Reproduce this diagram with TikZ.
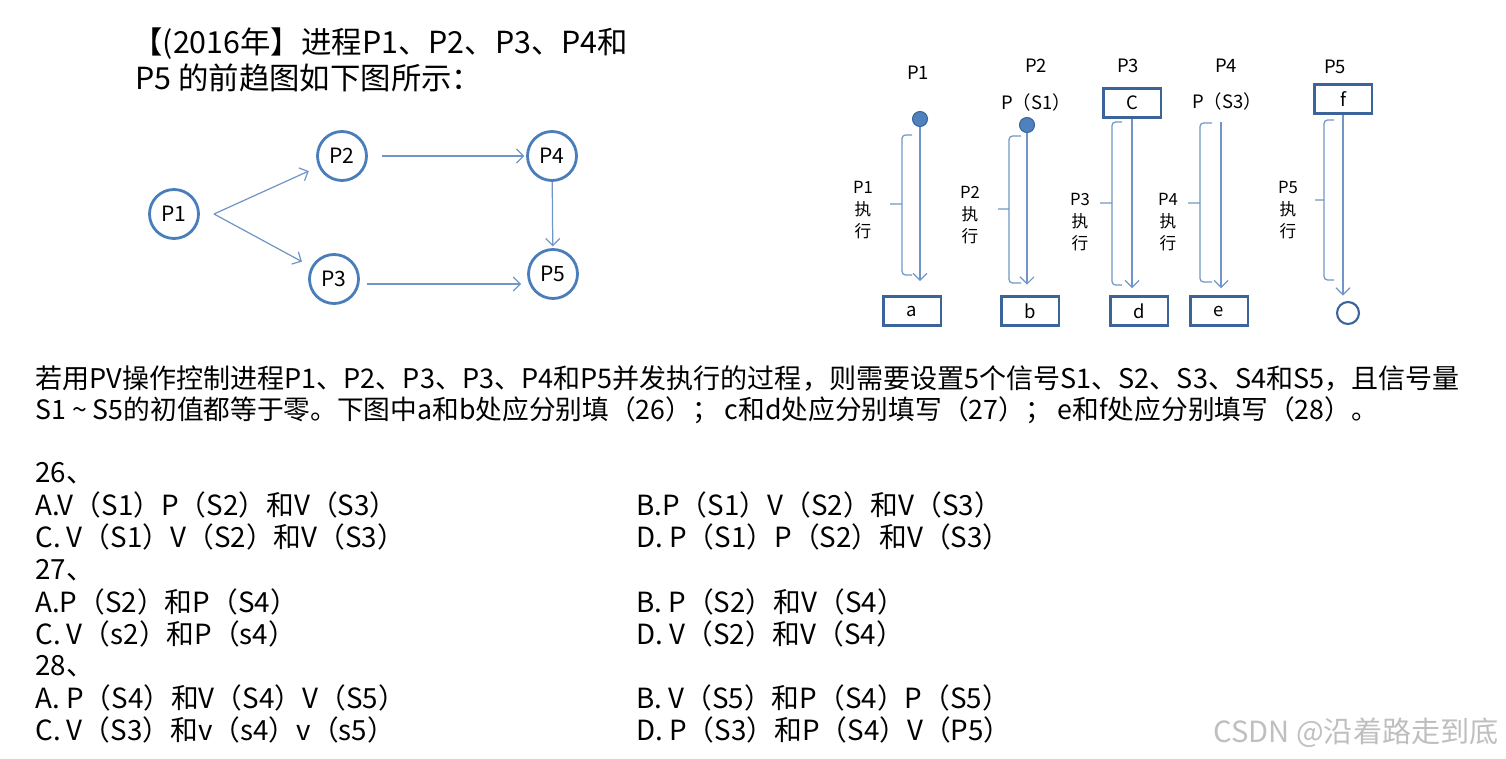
\documentclass[tikz,border=0pt]{standalone}
\usepackage{fontspec}
\setmainfont{Noto Sans CJK SC}
\usetikzlibrary{arrows.meta,positioning}
\definecolor{ringblue}{HTML}{4A7EBB}
\definecolor{lineblue}{HTML}{7096C8}
\definecolor{dotblue}{HTML}{4F81BD}
\definecolor{boxblue}{HTML}{3A649A}
\tikzset{every picture/.style={x=0.02cm,y=-0.02cm}}
\tikzset{txt/.style = {anchor=west,inner sep=0pt,font=\fontsize{15.8}{18}\selectfont}}
\tikzset{proc/.style = {shape=circle,draw=ringblue,line width=1.6pt,minimum size=0.98cm,inner sep=0pt,font=\fontsize{12}{14}\selectfont}}
\tikzset{edge/.style = {->, draw=lineblue, line width=0.7pt, >={Straight Barb[length=4pt,width=8pt]}}}
\tikzset{slot/.style = {draw=boxblue,line width=1.4pt,minimum width=1.15cm,minimum height=0.58cm,inner sep=0pt,font=\fontsize{10.5}{12}\selectfont}}
\tikzset{head/.style = {inner sep=0pt,font=\fontsize{10.5}{12}\selectfont}}
\tikzset{dot/.style = {shape=circle,fill=dotblue,draw=boxblue,line width=0.6pt,minimum size=0.3cm,inner sep=0pt}}
\tikzset{brace/.style = {draw=lineblue,line width=0.7pt,rounded corners=2pt}}
\tikzset{side/.style = {align=center,inner sep=0pt,font=\fontsize{9.5}{12.5}\selectfont}}

\begin{document}
\begin{tikzpicture}
\useasboundingbox (0,0) rectangle (1506,759);
% question title
\node[txt,font=\fontsize{17.3}{20}\selectfont] (title1) at (132,44) {【(2016年】进程P1、P2、P3、P4和};
\node[txt,font=\fontsize{17.3}{20}\selectfont] (title2) at (135,78) {P5 的前趋图如下图所示：};
% precedence graph
\node[proc] (p1) at (174,214) {P1};
\node[proc] (p2) at (342,156) {P2};
\node[proc] (p3) at (334,279) {P3};
\node[proc] (p4) at (552,156) {P4};
\node[proc] (p5) at (553,274) {P5};
\coordinate (fork) at (214,214);
\draw[edge,shorten >=6pt] (fork) -- (p2);
\draw[edge,shorten >=6pt] (fork) -- (p3);
\draw[edge,shorten <=8pt,shorten >=1pt] (p2) -- (p4);
\draw[edge,shorten >=1pt] (p4) -- (p5);
\draw[edge] ([shift={(7,5)}]p3.east) -- ([shift={(-6,5)}]p3.east -| p5.west);
%
% PV timing sketch
\node[head] (h1) at (918,73) {P1};
\node[head] (h2) at (1036,66) {P2};
\node[head] (h3) at (1128,66) {P3};
\node[head] (h4) at (1226,66) {P4};
\node[head] (h5) at (1335,67) {P5};
\node[dot] (d1) at (920,119) {};
\node[dot] (d2) at (1027,125) {};
\node[head] (ps1) at (1036,102) {P（S1）};
\node[slot] (c) at (1132,103) {C};
\node[head] (ps3) at (1227,101) {P（S3）};
\node[slot] (f) at (1343,99) {f};
\node[slot] (a) at (912,311) {a};
\node[slot] (b) at (1030,311) {b};
\node[slot] (d) at (1139,311) {d};
\node[slot] (e) at (1219,311) {e};
\node[shape=circle,draw=boxblue,line width=1.2pt,minimum size=0.44cm,inner sep=0pt] (end5) at (1348,313) {};
\coordinate (top4) at (1221,122);
\draw[edge] (d1) -- (d1 |- a.north) [shorten >=8pt];
\draw[edge] (d2) -- (d2 |- b.north) [shorten >=6pt];
\draw[edge] (c) -- (c |- d.north) [shorten >=4pt];
\draw[edge] (top4) -- (top4 |- e.north) [shorten >=4pt];
\draw[edge] (f) -- (f |- end5.north) [shorten >=3pt];
\draw[brace] (912,135) -- (902,135) -- (902,275) -- (912,275) (902,204) -- (890,204);
\draw[brace] (1021,136) -- (1009,136) -- (1009,283) -- (1021,283) (1009,209) -- (998,209);
\draw[brace] (1122,122) -- (1112,122) -- (1112,285) -- (1122,285) (1112,203) -- (1100,203);
\draw[brace] (1212,123) -- (1200,123) -- (1200,282) -- (1212,282) (1200,203) -- (1188,203);
\draw[brace] (1334,120) -- (1324,120) -- (1324,280) -- (1334,280) (1324,200) -- (1315,200);
\node[side] (x1) at (863,210) {P1\\执\\行};
\node[side] (x2) at (970,215) {P2\\执\\行};
\node[side] (x3) at (1080,222) {P3\\执\\行};
\node[side] (x4) at (1168,222) {P4\\执\\行};
\node[side] (x5) at (1288,210) {P5\\执\\行};
%
% question text
\node[txt,font=\fontsize{15.4}{18}\selectfont] (q1) at (35,379) {若用PV操作控制进程P1、P2、P3、P3、P4和P5并发执行的过程，则需要设置5个信号S1、S2、S3、S4和S5，且信号量};
\node[txt,font=\fontsize{15.2}{18}\selectfont] (q2) at (35,410) {S1 \textasciitilde{} S5的初值都等于零。下图中a和b处应分别填（26）； c和d处应分别填写（27）； e和f处应分别填写（28）。};
\node[txt] (n26) at (35,473) {26、};
\node[txt] (a26) at (35,505) {A.V（S1）P（S2）和V（S3）};
\node[txt] (b26) at (636,505) {B.P（S1）V（S2）和V（S3）};
\node[txt] (c26) at (35,537) {C. V（S1）V（S2）和V（S3）};
\node[txt] (d26) at (636,537) {D. P（S1）P（S2）和V（S3）};
\node[txt] (n27) at (35,570) {27、};
\node[txt] (a27) at (35,602) {A.P（S2）和P（S4）};
\node[txt] (b27) at (636,602) {B. P（S2）和V（S4）};
\node[txt] (c27) at (35,634) {C. V（s2）和P（s4）};
\node[txt] (d27) at (636,634) {D. V（S2）和V（S4）};
\node[txt] (n28) at (35,666) {28、};
\node[txt] (a28) at (35,698) {A. P（S4）和V（S4）V（S5）};
\node[txt] (b28) at (636,698) {B. V（S5）和P（S4）P（S5）};
\node[txt] (c28) at (35,730) {C. V（S3）和v（s4）v（s5）};
\node[txt] (d28) at (636,730) {D. P（S3）和P（S4）V（P5）};
\node[txt,text=black!25,font=\fontsize{16.6}{18}\selectfont] (mark) at (1213,733) {CSDN @沿着路走到底};
\end{tikzpicture}
\end{document}
